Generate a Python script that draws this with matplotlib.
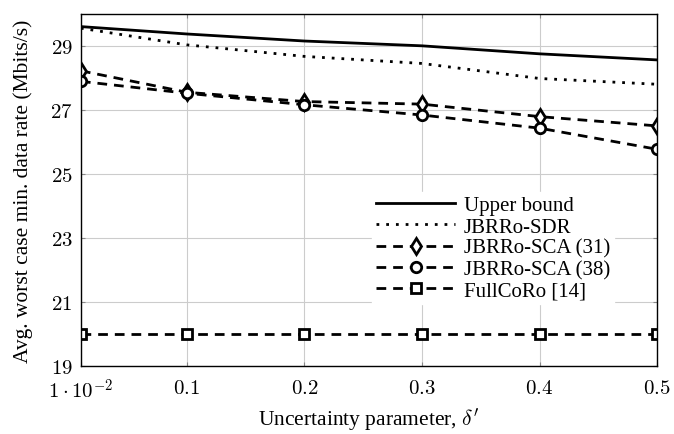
import matplotlib
matplotlib.use("Agg")
import matplotlib.pyplot as plt

plt.rcParams['font.family'] = ['Liberation Serif', 'DejaVu Serif']
plt.rcParams['mathtext.fontset'] = 'cm'

x = [0.01, 0.1, 0.2, 0.3, 0.4, 0.5]
upper = [29.6, 29.37, 29.15, 29.0, 28.75, 28.56]
sdr = [29.55, 29.03, 28.67, 28.45, 27.98, 27.8]
sca31 = [28.22, 27.55, 27.26, 27.18, 26.79, 26.5]
sca38 = [27.89, 27.52, 27.16, 26.84, 26.43, 25.77]
fullcoro = [20.0, 20.0, 20.0, 20.0, 20.0, 20.0]

xticks = [0.01, 0.1, 0.2, 0.3, 0.4, 0.5]
xticklabels = [r'$1\cdot10^{-2}$', r'$0.1$', r'$0.2$', r'$0.3$', r'$0.4$', r'$0.5$']
yticks = [19, 21, 23, 25, 27, 29]
yticklabels = [r'$%d$' % v for v in yticks]

fig = plt.figure(figsize=(6.74, 4.35), dpi=100)
ax = fig.add_axes([0.120, 0.156, 0.855, 0.810])

lw = 2.0
dash = (0, (3.5, 2.5))
mk = dict(markerfacecolor='white', markeredgecolor='black', markeredgewidth=2.0)

ax.plot(x, upper, color='black', lw=lw, label='Upper bound')
ax.plot(x, sdr, color='black', lw=lw, linestyle=(0, (1, 2.5)), label='JBRRo-SDR')
ax.plot(x, sca31, color='black', lw=lw, linestyle=dash, marker='d', markersize=8.5, label='JBRRo-SCA (31)', **mk)
ax.plot(x, sca38, color='black', lw=lw, linestyle=dash, marker='o', markersize=7.5, label='JBRRo-SCA (38)', **mk)
ax.plot(x, fullcoro, color='black', lw=lw, linestyle=dash, marker='s', markersize=7, label='FullCoRo [14]', **mk)

ax.set_xlim(0.01, 0.5)
ax.set_ylim(19, 30)
ax.set_xticks(xticks)
ax.set_xticklabels(xticklabels)
ax.set_yticks(yticks)
ax.set_yticklabels(yticklabels)
ax.tick_params(labelsize=15, direction='in', length=3, top=True, right=True, color='#888888')
ax.tick_params(axis='x', pad=9)
ax.tick_params(axis='y', pad=6)
ax.grid(True, color='#cccccc', lw=0.8)
for s in ax.spines.values():
    s.set_linewidth(1.0)

ax.set_xlabel(r"Uncertainty parameter, $\delta'$", fontsize=15.5, labelpad=2)
ax.set_ylabel('Avg. worst case min. data rate (Mbits/s)', fontsize=15.5, labelpad=12)

leg = ax.legend(loc='lower left', bbox_to_anchor=(0.505, 0.175), fontsize=15, frameon=True,
                fancybox=False, edgecolor='white', framealpha=1.0, handlelength=3.8,
                borderpad=0.2, labelspacing=0.08, handletextpad=0.4, borderaxespad=0.0)

fig.savefig('out.png', dpi=100)
